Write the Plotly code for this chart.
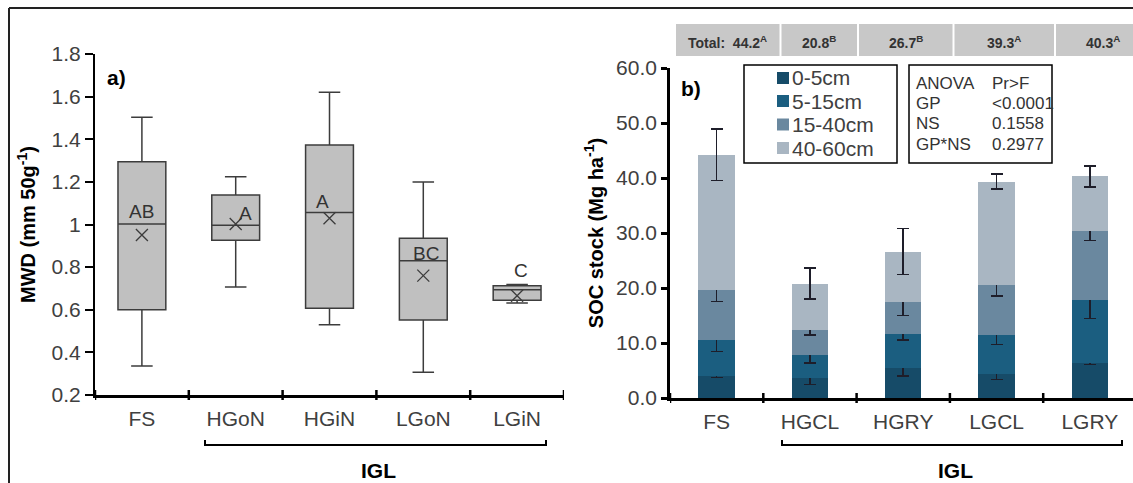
import plotly.graph_objects as go

# ---------------- data ----------------
# panel a) MWD box plots
mwd_cats = ["FS", "HGoN", "HGiN", "LGoN", "LGiN"]
mwd_q1 = [0.60, 0.926, 0.607, 0.552, 0.644]
mwd_median = [1.002, 0.996, 1.056, 0.830, 0.694]
mwd_q3 = [1.295, 1.138, 1.373, 0.935, 0.713]
mwd_low = [0.336, 0.707, 0.530, 0.307, 0.632]
mwd_high = [1.503, 1.224, 1.620, 1.200, 0.718]
mwd_mean = [0.951, 1.002, 1.029, 0.760, 0.666]
mwd_letters = ["AB", "A", "A", "BC", "C"]

# panel b) SOC stock stacked bars
soc_cats = ["FS", "HGCL", "HGRY", "LGCL", "LGRY"]
depths = ["0-5cm", "5-15cm", "15-40cm", "40-60cm"]
soc_0_5 = [4.06, 3.58, 5.40, 4.30, 6.30]
soc_5_15 = [6.44, 4.25, 6.25, 7.15, 11.60]
soc_15_40 = [9.10, 4.54, 5.77, 9.10, 12.40]
soc_40_60 = [24.60, 8.43, 9.20, 18.80, 10.00]
err_0_5 = [0.30, 1.09, 1.45, 0.94, 0.20]
err_5_15 = [2.06, 1.50, 1.15, 1.70, 3.46]
err_15_40 = [2.07, 0.94, 2.40, 1.95, 1.66]
err_40_60 = [4.67, 2.80, 4.20, 1.37, 1.90]
soc_totals = [44.2, 20.8, 26.7, 39.3, 40.3]
soc_total_letters = ["A", "B", "B", "A", "A"]

anova_terms = ["ANOVA", "GP", "NS", "GP*NS"]
anova_p = ["Pr>F", "<0.0001", "0.1558", "0.2977"]

# ---------------- styling ----------------
W, H = 1133, 483
FONT = "Liberation Sans"
TXT = "#404040"
depth_colors = ["#164b68", "#1b5e80", "#6a889f", "#a9b6c2"]


def px_x(p):
    return p / W


def px_y(p):
    return 1 - p / H


fig = go.Figure()

# ---- panel a ----
fig.add_trace(go.Box(
    x=mwd_cats, q1=mwd_q1, median=mwd_median, q3=mwd_q3,
    lowerfence=mwd_low, upperfence=mwd_high,
    boxpoints=False, width=0.51, whiskerwidth=0.45,
    fillcolor="#c0c0c0", line=dict(color="#3c3c3c", width=1.5),
    xaxis="x", yaxis="y", showlegend=False, hoverinfo="skip"))
fig.add_trace(go.Scatter(
    x=mwd_cats, y=mwd_mean, mode="markers",
    marker=dict(symbol="x-thin-open", size=12, color="#3c3c3c",
                line=dict(color="#3c3c3c", width=1.3)),
    xaxis="x", yaxis="y", showlegend=False, hoverinfo="skip"))

# ---- panel b ----
seg_vals = [soc_0_5, soc_5_15, soc_15_40, soc_40_60]
seg_errs = [err_0_5, err_5_15, err_15_40, err_40_60]
for name, vals, errs, col in zip(depths, seg_vals, seg_errs, depth_colors):
    fig.add_trace(go.Bar(
        x=soc_cats, y=vals, name=name, marker=dict(color=col, line=dict(width=0)),
        width=0.39, showlegend=False,
        error_y=dict(type="data", array=errs, visible=True,
                     color="#1e1e2a", thickness=1.6, width=6),
        xaxis="x2", yaxis="y2", hoverinfo="skip"))

# ---------------- axes ----------------
axis_common = dict(showline=True, linecolor="black", showgrid=False, automargin=False,
                   zeroline=False, tickfont=dict(family=FONT, size=21, color=TXT))

fig.update_layout(
    width=W, height=H,
    margin=dict(l=0, r=0, t=0, b=0, autoexpand=False),
    paper_bgcolor="white", plot_bgcolor="white",
    barmode="stack", bargap=0.61, showlegend=False,
    font=dict(family=FONT, color=TXT),
    xaxis=dict(domain=[px_x(95), px_x(564)], anchor="y",
               range=[-0.5, 4.5], ticks="", linewidth=2.5,
               ticklabelstandoff=3, **axis_common),
    yaxis=dict(domain=[px_y(395), px_y(54)], anchor="x",
               range=[0.2, 1.8], tickmode="linear", tick0=0.2, dtick=0.2,
               ticks="outside", ticklen=8, tickwidth=2, tickcolor="black",
               linewidth=2.2,
               title=dict(text="<b>MWD (mm 50g<sup>-1</sup>)</b>",
                          font=dict(family=FONT, size=20, color="black"),
                          standoff=10),
               **axis_common),
    xaxis2=dict(domain=[px_x(670), 1], anchor="y2",
                range=[-0.5, -0.5 + (W - 670) / 93.3], ticks="", linewidth=2.7,
                ticklabelstandoff=3, **axis_common),
    yaxis2=dict(domain=[px_y(398), px_y(68)], anchor="x2",
                range=[0, 60], tickmode="linear", tick0=0, dtick=10,
                tickformat=".1f",
                ticks="outside", ticklen=6, tickwidth=2.5, tickcolor="black",
                linewidth=2.7,
                title=dict(text="<b>SOC stock (Mg ha<sup>-1</sup>)</b>",
                           font=dict(family=FONT, size=20, color="black"),
                           standoff=8),
                **axis_common),
)

shapes = []
annotations = []

# crossing ticks on category boundaries
for xa, ya, n, half in (("x", "y domain", len(mwd_cats), 5 / 341),
                        ("x2", "y2 domain", len(soc_cats), 5 / 330)):
    for i in range(n + 1):
        shapes.append(dict(type="line", xref=xa, yref=ya, x0=i - 0.5, x1=i - 0.5,
                           y0=-half, y1=half, line=dict(color="black", width=2.5)))

# outer frame (top and left)
shapes.append(dict(type="line", xref="paper", yref="paper", x0=px_x(9), x1=1,
                   y0=px_y(8), y1=px_y(8), line=dict(color="#222", width=2)))
shapes.append(dict(type="line", xref="paper", yref="paper", x0=px_x(9), x1=px_x(9),
                   y0=0, y1=px_y(8), line=dict(color="#222", width=2)))

# IGL brackets
for (xl, xr) in ((205, 546), (782, 1122)):
    shapes.append(dict(type="path", xref="paper", yref="paper",
                       path=f"M {px_x(xl)},{px_y(440)} L {px_x(xl)},{px_y(445)} "
                            f"L {px_x(xr)},{px_y(445)} L {px_x(xr)},{px_y(440)}",
                       line=dict(color="black", width=2)))
    annotations.append(dict(xref="paper", yref="paper", x=px_x((xl + xr) / 2 + 3),
                            y=px_y(470), text="<b>IGL</b>", showarrow=False,
                            font=dict(family=FONT, size=21, color="black"),
                            xanchor="center", yanchor="middle"))

# panel labels
annotations.append(dict(xref="paper", yref="paper", x=px_x(105), y=px_y(78),
                        text="<b>a)</b>", showarrow=False, xanchor="left",
                        yanchor="middle", font=dict(family=FONT, size=21, color="black")))
annotations.append(dict(xref="paper", yref="paper", x=px_x(679), y=px_y(88),
                        text="<b>b)</b>", showarrow=False, xanchor="left",
                        yanchor="middle", font=dict(family=FONT, size=21, color="black")))

# significance letters (panel a)
letter_dx = [0, 10, -7, 3, 4]
letter_dy = [13, 12, 11, 7, 19]
for cat, med, let, dx, dy in zip(mwd_cats, mwd_median, mwd_letters, letter_dx, letter_dy):
    annotations.append(dict(xref="x", yref="y", x=cat, y=med, text=let,
                            showarrow=False, xshift=dx, yshift=dy,
                            font=dict(family=FONT, size=19, color="#333"),
                            xanchor="center", yanchor="middle"))

# totals header (panel b)
cell_edges = [675, 780.5, 858, 953.5, 1055, 1151]
for i, (tot, let) in enumerate(zip(soc_totals, soc_total_letters)):
    x0, x1 = cell_edges[i], cell_edges[i + 1]
    shapes.append(dict(type="rect", xref="paper", yref="paper",
                       x0=px_x(x0 + 1), x1=px_x(x1 - 1), y0=px_y(56), y1=px_y(24),
                       fillcolor="#c8c8c8", line=dict(width=0), layer="below"))
    label = f"{tot:.1f}<sup>{let}</sup>"
    if i == 0:
        label = "Total:  " + label
    annotations.append(dict(xref="paper", yref="paper", x=px_x((x0 + x1) / 2),
                            y=px_y(42), text=f"<b>{label}</b>", showarrow=False,
                            xanchor="center", yanchor="middle",
                            font=dict(family=FONT, size=14, color="#333")))

# legend box (depth classes)
shapes.append(dict(type="rect", xref="paper", yref="paper",
                   x0=px_x(744), x1=px_x(897), y0=px_y(163), y1=px_y(65),
                   line=dict(color="black", width=1.5), fillcolor="white"))
legend_rows = [78, 101, 124.5, 148]
for name, col, ry in zip(depths, depth_colors, legend_rows):
    shapes.append(dict(type="rect", xref="paper", yref="paper",
                       x0=px_x(777), x1=px_x(789), y0=px_y(ry + 6), y1=px_y(ry - 6),
                       fillcolor=col, line=dict(width=0)))
    annotations.append(dict(xref="paper", yref="paper", x=px_x(790), y=px_y(ry),
                            text=name, showarrow=False, xanchor="left", yanchor="middle",
                            font=dict(family=FONT, size=21, color=TXT)))

# ANOVA box
shapes.append(dict(type="rect", xref="paper", yref="paper",
                   x0=px_x(909), x1=px_x(1052), y0=px_y(163), y1=px_y(65),
                   line=dict(color="black", width=1.5), fillcolor="white"))
row_y = [83, 103, 124, 144]
for term, p, ry in zip(anova_terms, anova_p, row_y):
    annotations.append(dict(xref="paper", yref="paper", x=px_x(914), y=px_y(ry),
                            text=term, showarrow=False, xanchor="left", yanchor="middle",
                            font=dict(family=FONT, size=17, color="#333")))
    annotations.append(dict(xref="paper", yref="paper", x=px_x(990), y=px_y(ry),
                            text=p.replace("<", "&lt;").replace(">", "&gt;"),
                            showarrow=False, xanchor="left", yanchor="middle",
                            font=dict(family=FONT, size=17, color="#333")))

fig.update_layout(shapes=shapes, annotations=annotations)
fig.write_html(
    "out.html",
    config={"displayModeBar": False},
    post_script=("var d=document.getElementById('{plot_id}');"
                 "d.style.position='fixed';d.style.top='0px';d.style.left='0px';"
                 "document.body.style.margin='0';document.body.style.overflow='hidden';"),
)
